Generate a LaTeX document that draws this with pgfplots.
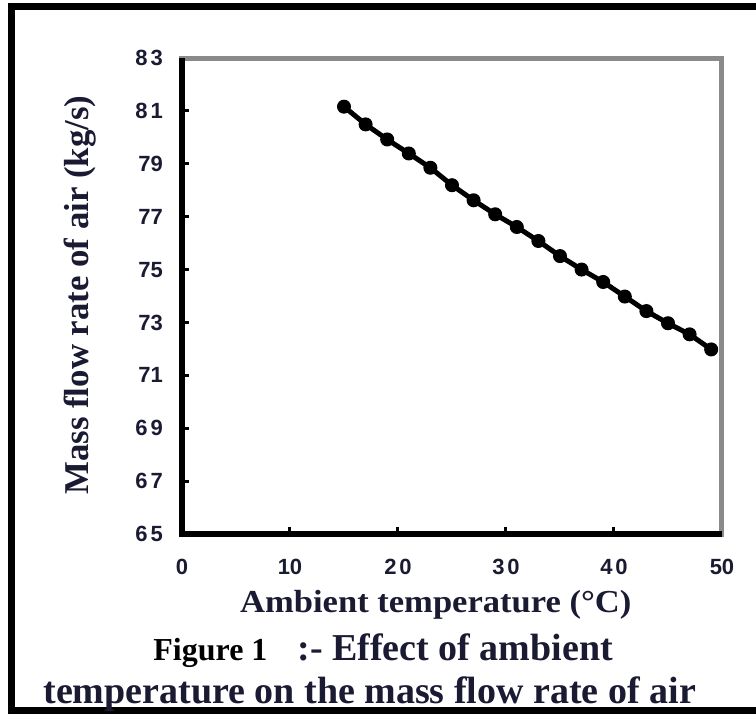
\documentclass[border=0pt]{standalone}
\usepackage{fontspec}
\usepackage{pgfplots}
\pgfplotsset{compat=1.18}
\setmainfont{Liberation Serif}
\newfontfamily\tickfont{Liberation Sans}
\newfontfamily\xlabfont[FakeStretch=1.08]{Liberation Serif}
\definecolor{lab}{HTML}{1A1A33}
\definecolor{axgray}{HTML}{8A8A8A}
\begin{document}
\begin{tikzpicture}
\path[use as bounding box] (0,0) rectangle (378pt,-357pt);
\draw[line width=3.5pt] (380pt,-3.25pt) -- (5.75pt,-3.25pt) -- (5.75pt,-355pt) -- (380pt,-355pt);
\begin{axis}[
  at={(91pt,-267pt)}, anchor=south west,
  scale only axis, width=270pt, height=238pt,
  xmin=0, xmax=50, ymin=65, ymax=83,
  xtick={0,10,20,30,40,50},
  xticklabels={0,10,2\hspace{1.5pt}0,3\hspace{1.5pt}0,4\hspace{1.5pt}0,50},
  ytick={65,67,69,71,73,75,77,79,81,83},
  yticklabels={6\hspace{1.5pt}5,6\hspace{1.5pt}7,6\hspace{1.5pt}9,71,73,75,77,79,8\hspace{1.5pt}1,8\hspace{1.5pt}3},
  tick pos=left, tick align=inside,
  major tick length=3.5pt,
  tick style={black, line width=1.5pt},
  axis line style={draw=axgray, line width=2.5pt},
  ticklabel style={font=\tickfont\bfseries\fontsize{11}{12}\selectfont, text=lab},
  yticklabel style={anchor=east, xshift=-6pt},
  xticklabel style={anchor=north, yshift=-9pt},
  xlabel={\xlabfont\bfseries\fontsize{16}{19}\selectfont Ambient temperature (°C)},
  xlabel style={at={(axis description cs:0.470,-0.164)}, anchor=base, text=lab, inner sep=0pt},
  ylabel={\bfseries\fontsize{17.4}{20}\selectfont Mass flow rate of air (kg/s)},
  ylabel style={at={(axis description cs:-0.189,0.502)}, anchor=center, text=lab, inner sep=0pt},
  clip=false,
]
\addplot[black, line width=2.5pt, mark=*, mark size=3.2pt, mark options={line width=0.6pt}] coordinates {
(15,81.16) (17,80.49) (19,79.92) (21,79.39) (23,78.85) (25,78.19) (27,77.62) (29,77.09) (31,76.61) (33,76.08) (35,75.51) (37,75.00) (39,74.53) (41,73.98) (43,73.43) (45,72.97) (47,72.55) (49,71.98)
};
\draw[black, line width=3.2pt] (rel axis cs:0,1) -- (rel axis cs:0,0) -- (rel axis cs:1,0);
\end{axis}
\node[anchor=base west, inner sep=0pt, text=black] at (76.5pt,-330pt) {\bfseries\fontsize{16}{19}\selectfont Figure 1};
\node[anchor=base west, inner sep=0pt, text=lab] at (148.5pt,-330pt) {\bfseries\fontsize{19}{22}\selectfont :- Effect of ambient};
\node[anchor=base west, inner sep=0pt, text=lab] at (21.5pt,-351.5pt) {\bfseries\fontsize{19}{22}\selectfont temperature on the mass flow rate of air};
\end{tikzpicture}
\end{document}
